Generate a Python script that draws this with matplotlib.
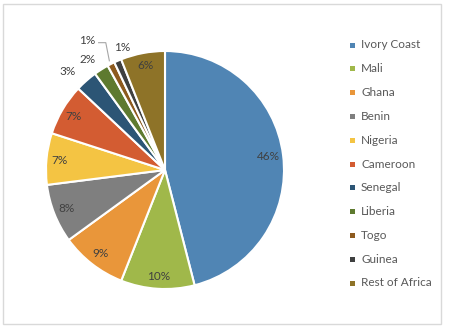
import numpy as np
import matplotlib
matplotlib.use("Agg")
import matplotlib.pyplot as plt
from matplotlib.patches import Rectangle

categories = ["Ivory Coast", "Mali", "Ghana", "Benin", "Nigeria", "Cameroon",
              "Senegal", "Liberia", "Togo", "Guinea", "Rest of Africa"]
values = [46, 10, 9, 8, 7, 7, 3, 2, 1, 1, 6]
colors = ["#5085B4", "#A0B84A", "#E9963A", "#7F7F7F", "#F4C443", "#D35C32",
          "#2C5575", "#5E7A2F", "#8D5A1E", "#3F4040", "#8E7328"]
# label placement (style): distance in radii and angle tweak in degrees
label_dist = [0.88, 0.90, 0.89, 0.89, 0.89, 0.89, 1.16, 1.13, 1.30, 1.09, 0.89]
label_dang = [0, 0, 0, 0, 0, 0, 3.3, 2.6, 0, -4.3, 0]

W, H = 450, 330
fig = plt.figure(figsize=(4.5, 3.3), dpi=100)
fig.patch.set_facecolor("white")
plt.rcParams['font.family'] = ['Lato', 'DejaVu Sans']

# outer border
fig.patches.append(Rectangle((3 / W, 6 / H), 438 / W, 320 / H, transform=fig.transFigure,
                             fill=False, edgecolor="#D9D9D9", linewidth=1))

cx, cy, r = 165, 170, 119
ax = fig.add_axes([(cx - r) / W, (H - cy - r) / H, 2 * r / W, 2 * r / H])
wedges, _ = ax.pie(values, colors=colors, startangle=90, counterclock=False,
                   wedgeprops=dict(edgecolor="white", linewidth=1.5))
ax.set_xlim(-1, 1)
ax.set_ylim(-1, 1)
ax.set_aspect("equal")
ax.axis("off")

txtcol = "#404040"
for i, (w, v, d, da) in enumerate(zip(wedges, values, label_dist, label_dang)):
    ang = np.deg2rad((w.theta1 + w.theta2) / 2 + da)
    if categories[i] == "Togo":
        # leader line
        x0, y0 = 1.03 * np.cos(ang), 1.03 * np.sin(ang)
        x1, y1 = x0 - 0.03, 1.07
        x2 = x1 - 0.06
        ax.plot([x0, x1, x2], [y0, y1, y1], color="#A6A6A6", lw=0.8, clip_on=False)
        ax.text(x2 - 0.025, y1 + 0.02, f"{v}%", ha="right", va="center", fontsize=8.5,
                color=txtcol)
        continue
    x, y = d * np.cos(ang), d * np.sin(ang)
    ax.text(x, y, f"{v}%", ha="center", va="center", fontsize=8.5, color=txtcol,
            clip_on=False)

# legend
for i, (c, col) in enumerate(zip(categories, colors)):
    yc = 45 + 23.8 * i
    fig.patches.append(Rectangle(((352 - 2.5) / W, (H - yc - 2.5) / H), 5 / W, 5 / H,
                                 transform=fig.transFigure, facecolor=col,
                                 edgecolor="none"))
    fig.text(361 / W, (H - yc) / H, c, ha="left", va="center", fontsize=8.5,
             color="#595959")

fig.savefig("out.png", dpi=100)
